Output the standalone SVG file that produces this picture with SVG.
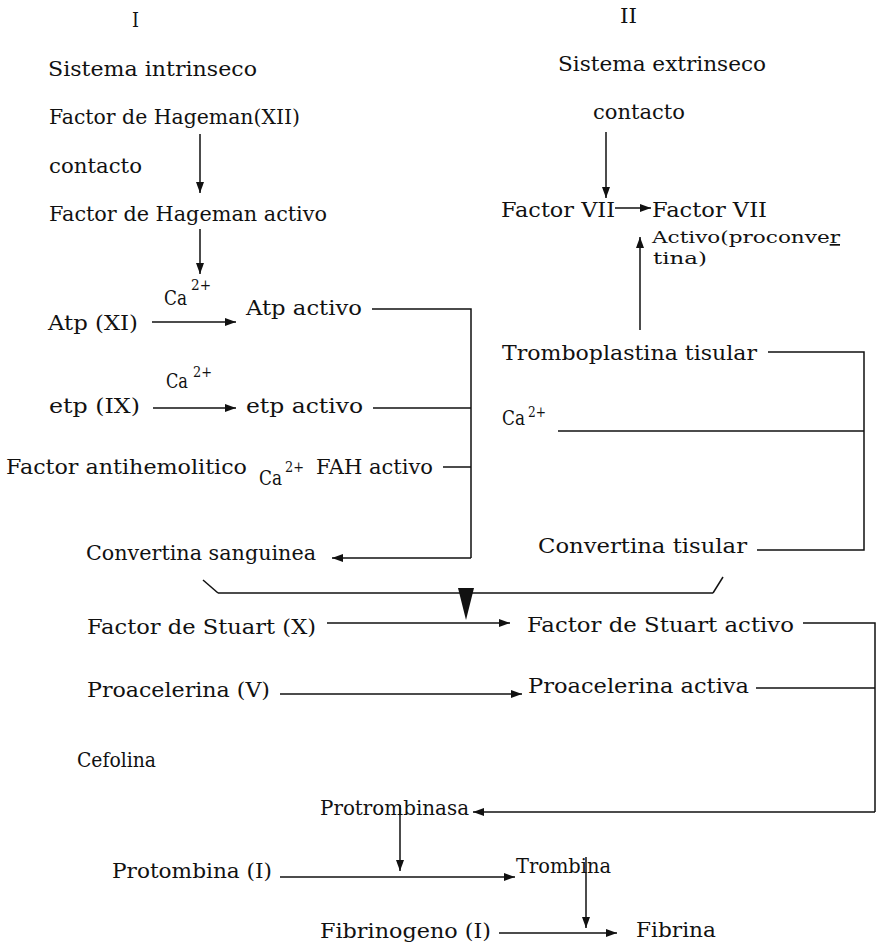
<svg xmlns="http://www.w3.org/2000/svg" width="876" height="942" viewBox="0 0 876 942">
<style>
text{font-family:"DejaVu Serif","Liberation Serif",serif;font-size:20px;fill:#111}
.sm{font-size:15px}
.md{font-size:17px}
.ln{stroke:#111;stroke-width:1.5;fill:none}
.ar{stroke:#111;stroke-width:1.5;fill:none;marker-end:url(#ah)}
</style>
<defs>
<marker id="ah" markerUnits="userSpaceOnUse" markerWidth="12" markerHeight="8" refX="11" refY="4" orient="auto">
<path d="M0,0 L11,4 L0,8 Z" fill="#111"/>
</marker>
</defs>
<rect width="876" height="942" fill="#fff"/>

<g id="headers">
<text x="132" y="27" textLength="7" lengthAdjust="spacingAndGlyphs">I</text>
<text x="620" y="23" textLength="17" lengthAdjust="spacingAndGlyphs">II</text>
</g>

<g id="sistema-intrinseco"><text x="48" y="76" textLength="209" lengthAdjust="spacingAndGlyphs">Sistema intrinseco</text></g>
<g id="hageman"><text x="49" y="124" textLength="251" lengthAdjust="spacingAndGlyphs">Factor de Hageman(XII)</text></g>
<g id="contacto-1"><text x="49" y="173" textLength="93" lengthAdjust="spacingAndGlyphs">contacto</text></g>
<g id="hageman-activo"><text x="49" y="221" textLength="278" lengthAdjust="spacingAndGlyphs">Factor de Hageman activo</text></g>

<g id="ca-atp"><text x="164" y="305" textLength="23" lengthAdjust="spacingAndGlyphs">Ca</text><text class="sm" x="191" y="290" textLength="20" lengthAdjust="spacingAndGlyphs">2+</text></g>
<g id="atp"><text x="48" y="330" textLength="90" lengthAdjust="spacingAndGlyphs">Atp (XI)</text></g>
<g id="atp-activo"><text x="246" y="315" textLength="116" lengthAdjust="spacingAndGlyphs">Atp activo</text></g>

<g id="ca-etp"><text x="166" y="388" textLength="22" lengthAdjust="spacingAndGlyphs">Ca</text><text class="sm" x="193" y="377" textLength="19" lengthAdjust="spacingAndGlyphs">2+</text></g>
<g id="etp"><text x="49" y="413" textLength="91" lengthAdjust="spacingAndGlyphs">etp (IX)</text></g>
<g id="etp-activo"><text x="246" y="413" textLength="117" lengthAdjust="spacingAndGlyphs">etp activo</text></g>

<g id="antihemolitico"><text x="6" y="474" textLength="241" lengthAdjust="spacingAndGlyphs">Factor antihemolitico</text></g>
<g id="ca-fah"><text x="259" y="485" textLength="23" lengthAdjust="spacingAndGlyphs">Ca</text><text class="sm" x="285" y="472" textLength="19" lengthAdjust="spacingAndGlyphs">2+</text></g>
<g id="fah-activo"><text x="316" y="474" textLength="117" lengthAdjust="spacingAndGlyphs">FAH activo</text></g>

<g id="convertina-sanguinea"><text x="86" y="560" textLength="230" lengthAdjust="spacingAndGlyphs">Convertina sanguinea</text></g>

<g id="sistema-extrinseco"><text x="558" y="71" textLength="208" lengthAdjust="spacingAndGlyphs">Sistema extrinseco</text></g>
<g id="contacto-2"><text x="593" y="119" textLength="92" lengthAdjust="spacingAndGlyphs">contacto</text></g>
<g id="factor-vii"><text x="501" y="217" textLength="114" lengthAdjust="spacingAndGlyphs">Factor VII</text></g>
<g id="factor-vii-activo">
<text x="652" y="217" textLength="115" lengthAdjust="spacingAndGlyphs">Factor VII</text>
<text class="md" x="652" y="243" textLength="188" lengthAdjust="spacingAndGlyphs">Activo(proconve<tspan text-decoration="underline">r</tspan></text>
<text class="md" x="653" y="264" textLength="54" lengthAdjust="spacingAndGlyphs">tina)</text>
</g>
<g id="tromboplastina"><text x="502" y="360" textLength="255" lengthAdjust="spacingAndGlyphs">Tromboplastina tisular</text></g>
<g id="ca-ext"><text x="502" y="425" textLength="23" lengthAdjust="spacingAndGlyphs">Ca</text><text class="sm" x="528" y="417" textLength="18" lengthAdjust="spacingAndGlyphs">2+</text></g>
<g id="convertina-tisular"><text x="538" y="553" textLength="209" lengthAdjust="spacingAndGlyphs">Convertina tisular</text></g>

<g id="stuart"><text x="87" y="634" textLength="229" lengthAdjust="spacingAndGlyphs">Factor de Stuart (X)</text></g>
<g id="stuart-activo"><text x="527" y="632" textLength="267" lengthAdjust="spacingAndGlyphs">Factor de Stuart activo</text></g>
<g id="proacelerina"><text x="87" y="697" textLength="183" lengthAdjust="spacingAndGlyphs">Proacelerina (V)</text></g>
<g id="proacelerina-activa"><text x="528" y="693" textLength="221" lengthAdjust="spacingAndGlyphs">Proacelerina activa</text></g>
<g id="cefolina"><text x="77" y="767" textLength="79" lengthAdjust="spacingAndGlyphs">Cefolina</text></g>
<g id="protrombinasa"><text x="320" y="815" textLength="149" lengthAdjust="spacingAndGlyphs">Protrombinasa</text></g>
<g id="protombina"><text x="112" y="878" textLength="160" lengthAdjust="spacingAndGlyphs">Protombina (I)</text></g>
<g id="trombina"><text x="516" y="873" textLength="95" lengthAdjust="spacingAndGlyphs">Trombina</text></g>
<g id="fibrinogeno"><text x="320" y="938" textLength="171" lengthAdjust="spacingAndGlyphs">Fibrinogeno (I)</text></g>
<g id="fibrina"><text x="636" y="937" textLength="80" lengthAdjust="spacingAndGlyphs">Fibrina</text></g>

<g id="connectors">
<line class="ar" x1="200" y1="134" x2="200" y2="193"/>
<line class="ar" x1="200" y1="229" x2="200" y2="274"/>
<line class="ar" x1="152" y1="322" x2="236" y2="322"/>
<line class="ar" x1="153" y1="408" x2="236" y2="408"/>
<polyline class="ln" points="372,309 471,309 471,558"/>
<line class="ln" x1="373" y1="408" x2="471" y2="408"/>
<line class="ln" x1="443" y1="467" x2="471" y2="467"/>
<line class="ar" x1="471" y1="558" x2="332" y2="558"/>

<line class="ar" x1="606" y1="132" x2="606" y2="198"/>
<line class="ar" x1="615" y1="208" x2="651" y2="208"/>
<line class="ar" x1="640" y1="330" x2="640" y2="237"/>
<polyline class="ln" points="768,352 864,352 864,550 757,550"/>
<line class="ln" x1="558" y1="431" x2="864" y2="431"/>

<line class="ln" x1="203" y1="580" x2="218" y2="593"/>
<line class="ln" x1="218" y1="593" x2="713" y2="593"/>
<line class="ln" x1="713" y1="593" x2="723" y2="577"/>
<path d="M458,588 L474,588 L466,620 Z" fill="#111"/>

<line class="ar" x1="327" y1="623" x2="510" y2="623"/>
<polyline class="ln" points="803,623 875,623 875,812"/>
<line class="ar" x1="280" y1="694" x2="522" y2="694"/>
<line class="ln" x1="756" y1="688" x2="875" y2="688"/>
<line class="ar" x1="875" y1="812" x2="473" y2="812"/>
<line class="ar" x1="400" y1="805" x2="400" y2="871"/>
<line class="ar" x1="280" y1="877" x2="515" y2="877"/>
<line class="ar" x1="586" y1="857" x2="586" y2="928"/>
<line class="ar" x1="499" y1="933" x2="617" y2="933"/>
</g>
</svg>
